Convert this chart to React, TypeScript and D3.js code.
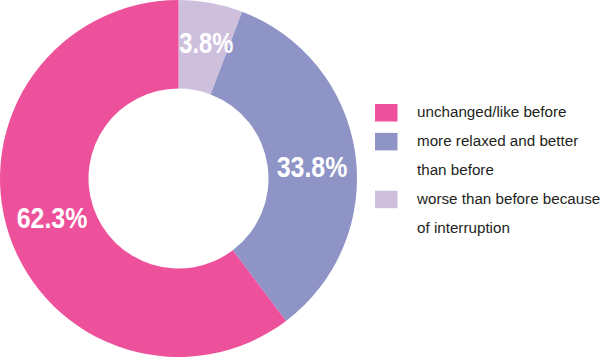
import React from "react";
import * as d3 from "d3";

const categories = ["worse than before because of interruption", "more relaxed and better than before", "unchanged/like before"];
const sliceShares = [5.8, 33.9, 60.3];
const percentLabels = ["3.8%", "33.8%", "62.3%"];
const colors = ["#CEBFDD", "#8E94C6", "#EE519B"];
const legendOrder = [2, 1, 0];
const legendLines = [["unchanged/like before"], ["more relaxed and better", "than before"], ["worse than before because", "of interruption"]];

const W = 600, H = 357;
const cx = 178.5, cy = 178.5, R = 178.5, r = 90;

export default function App() {
  const pie = d3.pie<number>().sort(null).value((d) => d)(sliceShares);
  const arc = d3.arc<d3.PieArcDatum<number>>().innerRadius(r).outerRadius(R);
  const labelPos: [number, number, number][] = [[206.3, 53.3, 54], [312, 176.7, 70.6], [52, 228.3, 70.6]];
  let line = 0;
  const lineH = 28.9;
  return (
    <svg width={W} height={H} style={{ position: "absolute", left: 0, top: 0, background: "#fff" }}>
      <g transform={`translate(${cx},${cy})`}>
        {pie.map((p, i) => (
          <path key={i} d={arc(p) || ""} fill={colors[i]} />
        ))}
      </g>
      {percentLabels.map((t, i) => (
        <text key={i} x={labelPos[i][0] - labelPos[i][2] / 2} y={labelPos[i][1]} fill="#fff"
          textLength={labelPos[i][2]} lengthAdjust="spacingAndGlyphs"
          style={{ fontFamily: "'Liberation Sans', Arial, sans-serif", fontWeight: 700, fontSize: 30 }}>
          {t}
        </text>
      ))}
      {legendOrder.map((ci, k) => {
        const startLine = line;
        line += legendLines[k].length;
        const baseY = 117.3 + startLine * lineH;
        return (
          <g key={k}>
            <rect x={375} y={baseY - 13.3} width={22.5} height={17.5} fill={colors[ci]} />
            {legendLines[k].map((s, j) => (
              <text key={j} x={417} y={baseY + j * lineH} fill="#231F20"
                style={{ fontFamily: "'Liberation Sans', Arial, sans-serif", fontSize: 15.2 }}>
                {s}
              </text>
            ))}
          </g>
        );
      })}
    </svg>
  );
}
